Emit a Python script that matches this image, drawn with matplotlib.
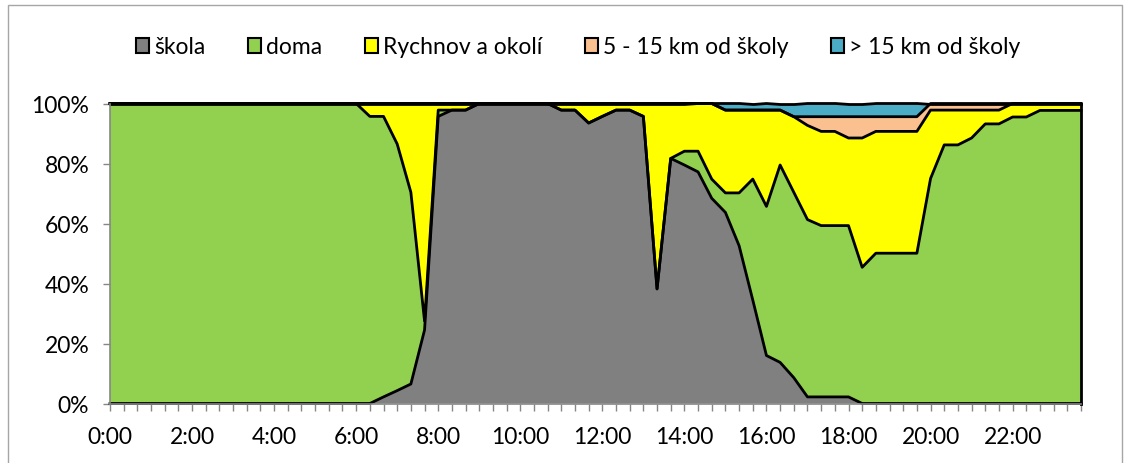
import matplotlib
matplotlib.use("Agg")
import matplotlib.pyplot as plt
import numpy as np
from matplotlib.patches import Patch, Rectangle

plt.rcParams['font.family'] = ['Lato', 'DejaVu Sans']

# 20-minute categories 0:00 .. 23:40
times = [f"{m // 60}:{m % 60:02d}" for m in range(0, 24 * 60, 20)]

series_names = ["škola", "doma", "Rychnov a okolí", "5 - 15 km od školy", "> 15 km od školy"]

skola = [0] * 20 + [2.2, 4.3, 6.5, 24.5, 95.7, 97.8, 97.8] + [100] * 6 + \
    [97.8, 97.8, 93.5, 95.7, 97.8, 97.8, 95.7, 38.2, 81.7, 79.5, 77.2, 68.4,
     63.7, 52.6, 34.5, 16.0, 13.7, 8.6, 2.2, 2.2, 2.2, 2.2] + [0] * 17

doma = [100] * 19 + [95.7, 93.5, 82.2, 63.9, 3.0, 2.1] + [0] * 17 + \
    [4.6, 6.9, 6.4, 6.5, 17.6, 40.3, 49.7, 65.8, 61.8, 59.1, 57.1, 57.1, 57.1, 45.4] + \
    [50.1] * 4 + [75.0, 86.2, 86.2, 88.5, 93.2, 93.2, 95.5, 95.5] + [97.7] * 4

rychnov = [0] * 19 + [4.3, 4.3, 13.5, 29.6, 72.5, 2.2, 2.2, 2.2] + [0] * 6 + \
    [2.2, 2.2, 6.5, 4.3, 2.2, 2.2, 4.3, 61.8, 18.3, 15.9, 15.9, 25.2, 27.6, 27.6,
     23.0, 32.1, 18.3, 25.2, 31.4, 31.4, 31.4, 29.2, 43.1] + \
    [40.6] * 4 + [22.8, 11.6, 11.6, 9.3, 4.6, 4.6, 4.5, 4.5] + [2.3] * 4

km5_15 = [0] * 51 + [2.9, 4.9, 4.9, 7.1, 7.1] + [4.9] * 4 + [2.2] * 6 + [0] * 6

km15 = [0] * 45 + [2.2] * 5 + [4.4] * 10 + [0] * 12

colors = ["#808080", "#92D050", "#FFFF00", "#FAC090", "#4BACC6"]

fig = plt.figure(figsize=(11.3, 4.64), dpi=100)
ax = fig.add_axes([110 / 1130, 1 - 404.5 / 464, (1081 - 110) / 1130, 300 / 464])

x = np.arange(len(times))
data = [skola, doma, rychnov, km5_15, km15]
ax.stackplot(x, *data, colors=colors, edgecolor='none', linewidth=0)
cum = np.cumsum(np.array(data, dtype=float), axis=0)
for row in cum:
    ax.plot(x, row, color='black', lw=2.0, solid_joinstyle='round', clip_on=False, zorder=3)
ax.plot([x[-1], x[-1]], [0, cum[-1][-1]], color='black', lw=2.0, clip_on=False, zorder=3)

ax.set_xlim(0, len(times) - 1)
ax.set_ylim(0, 100)
for s in ['top', 'right']:
    ax.spines[s].set_visible(False)
for s in ['left', 'bottom']:
    ax.spines[s].set_color('#868686')
    ax.spines[s].set_linewidth(1.2)
    ax.spines[s].set_zorder(4)

ax.set_xticks(x)
ax.set_xticklabels([t if i % 6 == 0 else '' for i, t in enumerate(times)])
yt = [0, 20, 40, 60, 80, 100]
ax.set_yticks(yt)
ax.set_yticklabels([f"{v}%" for v in yt])
ax.tick_params(axis='x', colors='#868686', length=5, width=1, pad=11, labelsize=16.5, labelcolor='black')
ax.tick_params(axis='y', colors='#868686', length=5, width=1, pad=10, labelsize=16.5, labelcolor='black')

handles = [Patch(facecolor=c, edgecolor='black', linewidth=1.5) for c in colors]
fig.legend(handles, series_names, loc='center', bbox_to_anchor=(578 / 1130, 1 - 48 / 464),
           ncol=5, frameon=False, fontsize=16.5, handlelength=0.6, handleheight=0.6,
           handletextpad=0.2, columnspacing=1.85, borderaxespad=0)

fig.add_artist(Rectangle((8 / 1130, -0.05), (1122 - 8) / 1130, 1.05 - 6 / 464,
                         transform=fig.transFigure, fill=False, edgecolor='#a6a6a6', lw=1))

fig.savefig("out.png", dpi=100)
